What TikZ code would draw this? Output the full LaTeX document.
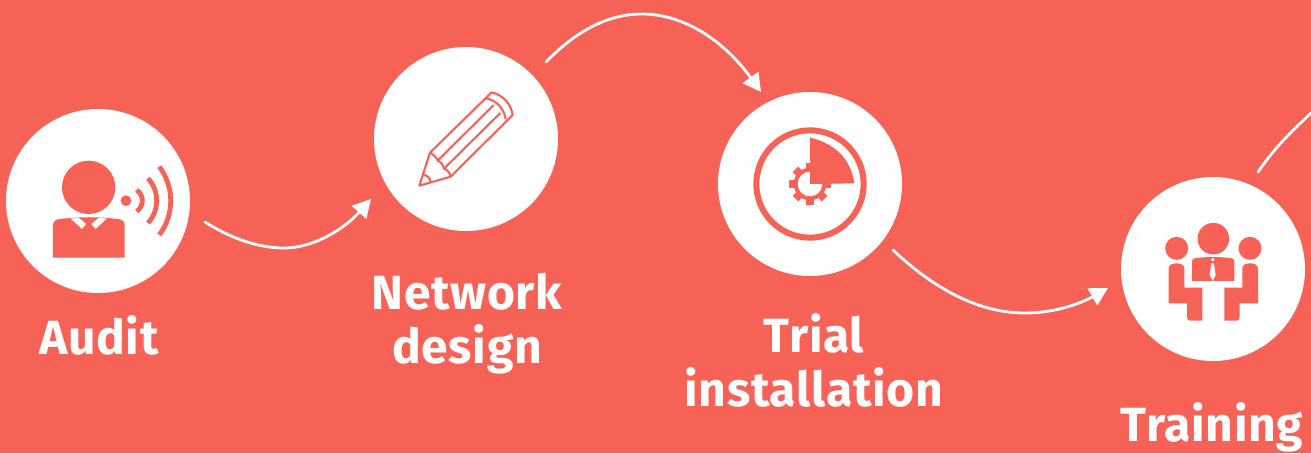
\documentclass[tikz,border=0pt]{standalone}
\usepackage{fontspec}
\setmainfont{Fira Sans}[BoldFeatures={LetterSpace=1.5}]
\usetikzlibrary{arrows.meta}
\definecolor{coral}{HTML}{F66256}
\tikzset{
  disc/.style={circle,fill=white,minimum size=184pt,inner sep=0pt},
  flow/.style={white,line width=2.8pt,line cap=round,-{Triangle[length=18pt,width=19pt]}},
  flowfree/.style={white,line width=2.8pt,line cap=round},
  lab/.style={white,font=\fontsize{48pt}{54pt}\selectfont\bfseries,align=center,inner sep=0pt},
  icon/.style={fill=coral,draw=none},
  knock/.style={fill=white,draw=none},
  pen/.style={draw=coral,line width=2.1pt,line join=round,fill=none},
  wave/.style={draw=coral,line width=4.8pt,fill=none}
}
\begin{document}
\begin{tikzpicture}[x=1pt,y=-1pt]
\useasboundingbox (0,0) rectangle (1311,453);
\fill[coral] (0,0) rectangle (1311,453);
% discs
\node[disc] (audit) at (98,201) {};
\node[disc] (design) at (466,139) {};
\node[disc] (trial) at (810,184) {};
\node[disc] (training) at (1213,269) {};
% labels
\node[lab] (auditlab) at (99,335.5) {Audit};
\node[lab] (designlab) at (467,324) {Network\\design};
\node[lab] (triallab) at (814,360.5) {Trial\\installation};
\node[lab] (traininglab) at (1212,427) {Training};
% connector ends
\coordinate (s1) at (205,222);
\coordinate (m1) at (284,248);
\coordinate (e1) at (371,199);
\coordinate (s2) at (546,62);
\coordinate (m2) at (642,14);
\coordinate (e2) at (761,92);
\coordinate (s3) at (893,250);
\coordinate (m3) at (1025,313);
\coordinate (e3) at (1108,288);
\coordinate (s4) at (1258,172);
\coordinate (e4) at (1311,113);
\draw[flow] (s1) .. controls (230,238) and (258,248) .. (m1) .. controls (315,248) and (345,228) .. (e1);
\draw[flow] (s2) .. controls (575,32) and (607,14) .. (m2) .. controls (685,14) and (725,42) .. (e2);
\draw[flow] (s3) .. controls (930,285) and (975,313) .. (m3) .. controls (1052,313) and (1078,305) .. (e3);
\draw[flowfree] (s4) .. controls (1275,147) and (1293,130) .. (e4);
% audit icon
\begin{scope}[shift={(0,100)},x=.3333pt,y=-.3333pt]
\fill[icon] (266,262) circle[radius=80];
\fill[icon] (159,473) -- (159,378) .. controls (159,364) and (166,358) .. (180,357)
  .. controls (240,350) and (295,350) .. (353,357) .. controls (367,358) and (374,364) .. (374,378) -- (374,473) -- cycle;
\fill[knock] (212,356) -- (236,353) -- (259,372) -- (246,387) -- cycle;
\fill[knock] (320,356) -- (297,353) -- (274,372) -- (287,387) -- cycle;
\fill[icon] (378,302) circle[radius=16];
\draw[wave] (410,270) arc[start angle=-56,end angle=56,radius=38.6];
\draw[wave] (444,235) arc[start angle=-42.6,end angle=42.6,radius=99];
\draw[wave] (478,200) arc[start angle=-37,end angle=37,radius=170];
\end{scope}
% pencil icon
\begin{scope}[shift={(370,45)},x=.3333pt,y=-.3333pt]
\draw[pen] (148,422) -- (180,323) -- (365,142) .. controls (398,150) and (423,175) .. (428,210) -- (242,395) -- cycle;
\draw[pen] (348,160) .. controls (378,165) and (402,190) .. (407,222);
\draw[pen] (203,347) -- (371,180);
\draw[pen] (222,371) -- (391,204);
\draw[pen] (180,323) .. controls (192,330) and (200,338) .. (203,347) .. controls (212,350) and (220,360) .. (222,371) .. controls (232,374) and (240,384) .. (242,395);
\draw[pen] (160,390) .. controls (172,390) and (182,400) .. (182,413);
\end{scope}
% trial icon
\begin{scope}[shift={(715,90)},x=.3333pt,y=-.3333pt]
\draw[coral,line width=6pt] (285,282) circle[radius=161];
\foreach \a in {0,45,...,315}{
  \fill[icon,rotate around={\a:(285,282)}] (273,282) rectangle (297,344);
}
\fill[icon] (285,282) circle[radius=49];
\fill[knock] (285,282) circle[radius=37];
\fill[icon] (285,282) -- (285,143) .. controls (355,158) and (408,205) .. (418,280) -- cycle;
\end{scope}
% training icon
\begin{scope}[shift={(1115,175)},x=.3333pt,y=-.3333pt]
\fill[icon] (295,191) circle[radius=47.5];
\fill[icon] (185,220) circle[radius=34.5];
\fill[icon] (405,220) circle[radius=34.5];
\fill[icon] (231,318) -- (231,262) .. controls (231,252) and (236,250) .. (246,249)
  .. controls (280,245) and (310,245) .. (344,249) .. controls (354,250) and (358,252) .. (358,262) -- (358,318) -- cycle;
\fill[knock] (293,254) circle[radius=5.5];
\fill[knock] (289,265) -- (297,265) -- (302,300) -- (293,318) -- (284,300) -- cycle;
\fill[icon] (161,385) -- (161,282) .. controls (161,270) and (170,265) .. (184,265)
  .. controls (200,265) and (208,270) .. (208,282) -- (208,338) -- (262,338) -- (262,437) -- (225,437)
  .. controls (218,437) and (216,432) .. (216,425) -- (216,385) -- cycle;
\fill[icon] (429,385) -- (429,282) .. controls (429,270) and (420,265) .. (406,265)
  .. controls (390,265) and (382,270) .. (382,282) -- (382,338) -- (328,338) -- (328,437) -- (365,437)
  .. controls (372,437) and (374,432) .. (374,425) -- (374,385) -- cycle;
\end{scope}
\end{tikzpicture}
\end{document}
